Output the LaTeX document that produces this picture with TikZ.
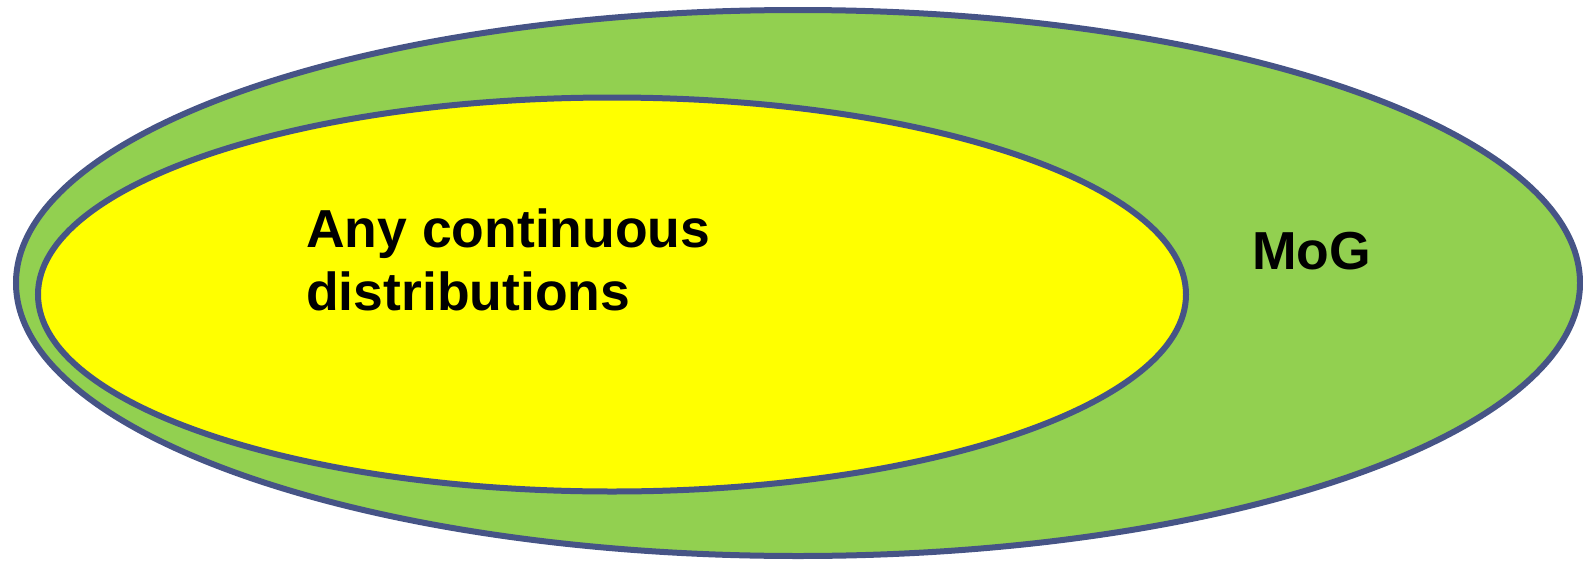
\documentclass[tikz,border=0pt]{standalone}
\usepackage{fontspec}
\setmainfont{Liberation Sans}
\definecolor{rim}{RGB}{70,84,134}
\definecolor{outerfill}{RGB}{146,208,80}
\definecolor{innerfill}{RGB}{255,255,0}
\tikzset{
  setshape/.style={draw=rim, line width=6pt},
  lbl/.style={font=\fontsize{53.5}{63}\selectfont\bfseries, inner sep=0pt, align=left}
}
\begin{document}
\begin{tikzpicture}[x=1pt,y=-1pt]
\useasboundingbox (0,0) rectangle (1583,560);
\draw[setshape, fill=outerfill] (798,283) ellipse [x radius=782, y radius=273];
\draw[setshape, fill=innerfill] (612,294.5) ellipse [x radius=574, y radius=197];
\node[lbl, anchor=base west] (any) at (306,310) {Any continuous\\distributions};
\node[lbl, anchor=base west] (mog) at (1252,269) {MoG};
\end{tikzpicture}
\end{document}
